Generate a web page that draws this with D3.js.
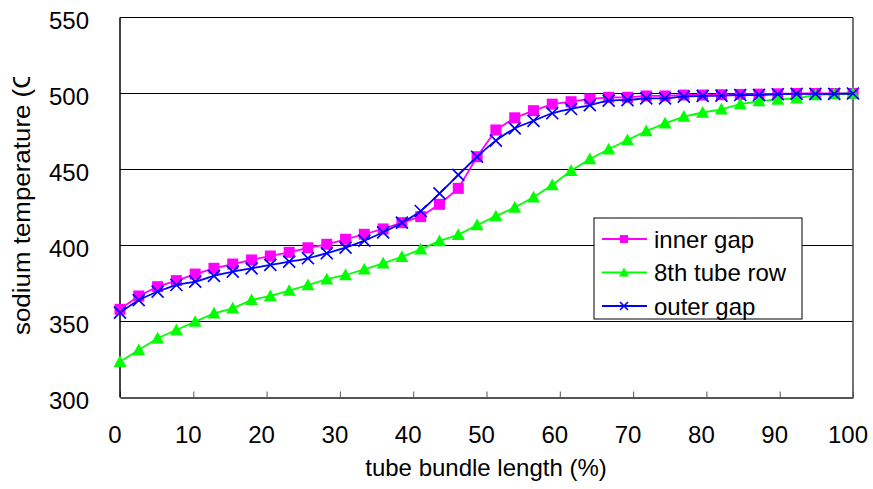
<!DOCTYPE html>
<html lang="en">
<head>
    <meta charset="UTF-8">
    <title>sodium temperature</title>
    <script src="https://d3js.org/d3.v7.min.js"></script>
    <style>
        body { margin: 0; background: #fff; }
        text { font-family: Arial, "Liberation Sans", sans-serif; fill: #000; }
    </style>
</head>
<body>
    <div id="chart"></div>

    <script>
        // data
        var bundleLength = [0, 2.56, 5.13, 7.69, 10.26, 12.82, 15.38, 17.95, 20.51, 23.08,
            25.64, 28.21, 30.77, 33.33, 35.90, 38.46, 41.03, 43.59, 46.15, 48.72,
            51.28, 53.85, 56.41, 58.97, 61.54, 64.10, 66.67, 69.23, 71.79, 74.36,
            76.92, 79.49, 82.05, 84.62, 87.18, 89.74, 92.31, 94.87, 97.44, 100];
        var innerGap = [358, 366.8, 372.9, 376.9, 381.2, 385, 387.8, 390.5, 393.1, 395.5,
            398.5, 400.8, 404.1, 407.4, 410.9, 415, 419, 427.1, 437.6, 458.4,
            476, 484, 488.7, 493, 494.6, 496.4, 497.5, 497.5, 498.4, 498.4,
            499, 499, 499.2, 499.4, 499.6, 499.8, 500, 500, 500, 500];
        var tubeRow8 = [323.5, 331.2, 339, 344.4, 349.9, 355.4, 358.7, 364.2, 366.8, 370.3,
            374, 377.8, 380.6, 384.3, 388.3, 392.6, 397.5, 403, 407, 413.5,
            419.3, 425, 431.7, 439.8, 449.2, 456.9, 463.3, 469.4, 475.3, 480.4,
            484.8, 487.5, 489.6, 493, 495, 496.1, 496.8, 499, 499.7, 500];
        var outerGap = [355.8, 364, 369.6, 374, 376.2, 380, 382.8, 385, 387.2, 389.4,
            391.6, 394.9, 398.6, 403.2, 408.7, 415, 422.7, 434.3, 446.4, 458.4,
            469, 477, 482, 487, 489.8, 492.4, 495.3, 495.7, 496.8, 496.8,
            498, 498.4, 498.6, 499, 499, 499.5, 499.7, 499.7, 499.7, 500];
        var xTicks = [0, 10, 20, 30, 40, 50, 60, 70, 80, 90, 100];
        var yTicks = [300, 350, 400, 450, 500, 550];

        var series = [
            {name: "inner gap", values: innerGap, color: "#ff00ff", marker: "square", size: 11, curve: d3.curveLinear},
            {name: "8th tube row", values: tubeRow8, color: "#00ff00", marker: "triangle", size: 13, curve: d3.curveLinear},
            {name: "outer gap", values: outerGap, color: "#0000ff", marker: "cross", size: 12, curve: d3.curveCatmullRom}
        ];

        var W = 873, H = 489;
        var plot = {left: 120, right: 853, top: 17.5, bottom: 397.5};

        var svg = d3.select("#chart").append("svg")
            .attr("width", W)
            .attr("height", H);

        var x = d3.scaleLinear().domain([0, 100]).range([plot.left, plot.right]);
        var y = d3.scaleLinear().domain([300, 550]).range([plot.bottom, plot.top]);

        // gridlines
        svg.append("g")
            .selectAll("line")
            .data(yTicks.filter(function(d) { return d > 300; }))
            .enter().append("line")
            .attr("x1", plot.left).attr("x2", plot.right)
            .attr("y1", function(d) { return y(d); })
            .attr("y2", function(d) { return y(d); })
            .attr("stroke", "#000")
            .attr("stroke-width", 1);

        // right border
        svg.append("line")
            .attr("x1", plot.right).attr("x2", plot.right)
            .attr("y1", plot.top).attr("y2", plot.bottom)
            .attr("stroke", "#444").attr("stroke-width", 1.5);

        // x axis, ticks pointing up into the plot
        var xAxis = svg.append("g")
            .attr("transform", "translate(0," + plot.bottom + ")")
            .call(d3.axisBottom(x).tickValues(xTicks).tickSize(-6).tickSizeOuter(0).tickFormat(""));
        xAxis.select(".domain").attr("stroke", "#555").attr("stroke-width", 2);
        xAxis.selectAll(".tick line").attr("stroke", "#555").attr("stroke-width", 1);

        // y axis line
        svg.append("line")
            .attr("x1", plot.left).attr("x2", plot.left)
            .attr("y1", plot.top).attr("y2", plot.bottom)
            .attr("stroke", "#000").attr("stroke-width", 1.5);

        // tick labels
        svg.append("g").selectAll("text")
            .data(xTicks)
            .enter().append("text")
            .attr("x", function(d) { return x(d) - 5; })
            .attr("y", 443)
            .attr("text-anchor", "middle")
            .style("font-size", "24px")
            .text(function(d) { return d; });

        svg.append("g").selectAll("text")
            .data(yTicks)
            .enter().append("text")
            .attr("x", 89)
            .attr("y", function(d) { return y(d) + 3; })
            .attr("text-anchor", "end")
            .attr("dominant-baseline", "central")
            .style("font-size", "24px")
            .text(function(d) { return d; });

        // axis titles
        svg.append("text")
            .attr("x", 486)
            .attr("y", 476)
            .attr("text-anchor", "middle")
            .style("font-size", "24px")
            .text("tube bundle length (%)");

        // y title is cut off at the top in the original
        svg.append("clipPath").attr("id", "ytitle-clip")
            .append("rect").attr("x", 0).attr("y", 77).attr("width", 60).attr("height", 400);
        svg.append("g").attr("clip-path", "url(#ytitle-clip)")
            .append("text")
            .attr("transform", "translate(21,335) rotate(-90) scale(1.08,1)")
            .attr("dominant-baseline", "central")
            .style("font-size", "24px")
            .text("sodium temperature (C)");

        // markers
        function drawMarker(g, type, color, s) {
            if (type === "square") {
                g.append("rect")
                    .attr("x", -s / 2).attr("y", -s / 2)
                    .attr("width", s).attr("height", s)
                    .attr("fill", color);
            } else if (type === "triangle") {
                g.append("path")
                    .attr("d", "M0," + (-s * 0.5) + "L" + (s / 2) + "," + (s * 0.4) + "L" + (-s / 2) + "," + (s * 0.4) + "Z")
                    .attr("fill", color);
            } else {
                var h = s / 2;
                g.append("path")
                    .attr("d", "M" + (-h) + "," + (-h) + "L" + h + "," + h + "M" + h + "," + (-h) + "L" + (-h) + "," + h)
                    .attr("stroke", color)
                    .attr("stroke-width", 1.7)
                    .attr("fill", "none");
            }
        }

        series.forEach(function(s) {
            var line = d3.line()
                .x(function(d, i) { return x(bundleLength[i]); })
                .y(function(d) { return y(d); })
                .curve(s.curve);

            svg.append("path")
                .datum(s.values)
                .attr("d", line)
                .attr("fill", "none")
                .attr("stroke", s.color)
                .attr("stroke-width", 1.8);

            svg.append("g").selectAll("g")
                .data(s.values)
                .enter().append("g")
                .attr("transform", function(d, i) { return "translate(" + x(bundleLength[i]) + "," + y(d) + ")"; })
                .each(function() { drawMarker(d3.select(this), s.marker, s.color, s.size); });
        });

        // legend
        var legend = svg.append("g").attr("transform", "translate(594,218)");
        legend.append("rect")
            .attr("width", 208).attr("height", 101)
            .attr("fill", "#fff")
            .attr("stroke", "#000")
            .attr("stroke-width", 1);

        series.forEach(function(s, i) {
            var row = legend.append("g").attr("transform", "translate(0," + (21 + i * 33.5) + ")");
            row.append("line")
                .attr("x1", 8).attr("x2", 53)
                .attr("stroke", s.color).attr("stroke-width", 1.8);
            var m = row.append("g").attr("transform", "translate(30,0)");
            drawMarker(m, s.marker, s.color, s.marker === "triangle" ? 10 : 8);
            row.append("text")
                .attr("x", 60)
                .attr("dominant-baseline", "central")
                .style("font-size", "24px")
                .text(s.name);
        });
    </script>
</body>
</html>
